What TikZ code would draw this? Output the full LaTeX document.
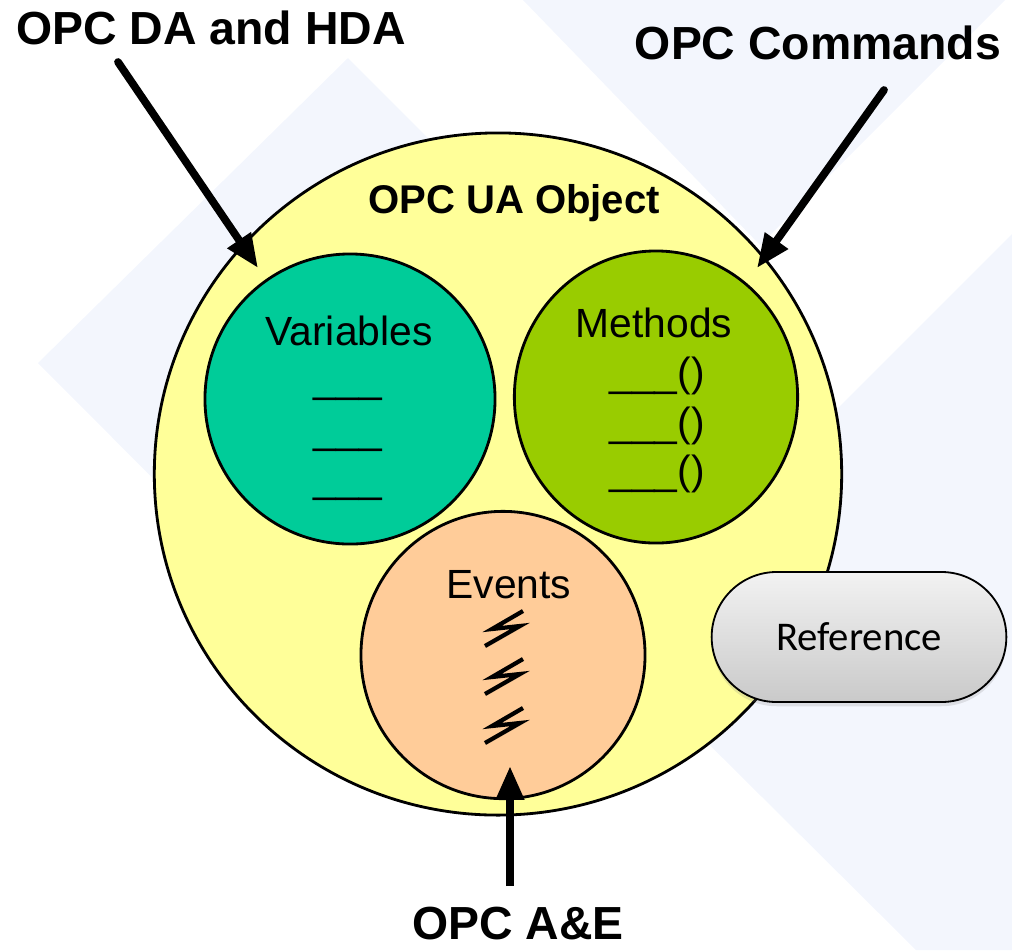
\documentclass[tikz,border=0pt]{standalone}
\usepackage{fontspec}
\setmainfont{Liberation Sans}
\newfontfamily\calibri{Carlito}
\usepackage{tikz}
\usetikzlibrary{shapes.geometric}
\usetikzlibrary{shapes.misc}
\usetikzlibrary{arrows.meta}
\usetikzlibrary{shadows}
\definecolor{objyellow}{HTML}{FFFF99}
\definecolor{varteal}{HTML}{00CC99}
\definecolor{methgreen}{HTML}{99CC00}
\definecolor{evtpeach}{HTML}{FFCC99}
\definecolor{bgblue}{RGB}{243,246,253}
\tikzset{
    blob/.style={ellipse,draw,line width=2pt,inner sep=0pt},
    pill/.style={rounded rectangle,draw,line width=1.3pt,top color=gray!10,bottom color=gray!42,
        drop shadow={shadow xshift=0pt,shadow yshift=-3pt,opacity=.2}},
    bigarrow/.style={line width=5.5pt,line cap=round,-{Triangle[length=24pt,width=19pt]}},
    title/.style={anchor=base,font=\bfseries\fontsize{33}{36}\selectfont},
    inlabel/.style={anchor=base,font=\fontsize{29}{35}\selectfont}
}

\begin{document}
\begin{tikzpicture}[x=0.025cm,y=-0.025cm]
\useasboundingbox (0,0) rectangle (1012,950);
% faint backdrop
\fill[bgblue] (348,58) -- (38,363) -- (348,674) -- (656,366) -- cycle;
\fill[bgblue] (523,0) -- (1005,0) -- (760,245) -- cycle;
\fill[bgblue] (605,641) -- (1012,234) -- (1012,950) -- (916,950) -- cycle;
% object and its parts
\node[blob,fill=objyellow,minimum width=17.18cm,minimum height=17.05cm] (obj) at (498,474) {};
\node[blob,fill=varteal,minimum width=7.25cm,minimum height=7.25cm] (var) at (350,399) {};
\node[blob,fill=methgreen,minimum width=7.08cm,minimum height=7.3cm] (meth) at (656,397) {};
\node[blob,fill=evtpeach,minimum width=7.1cm,minimum height=7.18cm] (evt) at (503,655) {};
\node[pill,minimum width=7.6cm,minimum height=3.25cm] (ref) at (859,637) {\calibri\fontsize{29}{30}\selectfont Reference};
\node[title,font=\bfseries\fontsize{28.5}{30}\selectfont] (objlabel) at (514,213) {OPC UA Object};
\node[inlabel] (varlabel) at (349,345) {Variables};
\node[inlabel] (methlabel) at (654,337) {Methods};
\node[inlabel] (evtlabel) at (509,598) {Events};
\foreach \y in {392,443,492}{
    \node[inlabel] at (348,\y) {\_\_\_};
}
\foreach \y in {386,436,484}{
    \node[inlabel] at (657,\y) {\_\_\_()};
}
\foreach \dy in {0,48,97}{
    \draw[line width=3pt] (523,611+\dy) -- (492,629+\dy) -- (520,626+\dy) -- (485,646+\dy);
}
% where the classic specs come in
\node[title] (dalabel) at (211,44) {OPC DA and HDA};
\node[title] (cmdlabel) at (818,59) {OPC Commands};
\node[title] (aelabel) at (518,939) {OPC A\&E};
\coordinate (datail) at (118,62);
\coordinate (datip) at (258,268);
\coordinate (cmdtail) at (884,90);
\coordinate (cmdtip) at (757,268);
\coordinate (aetail) at (510,886);
\coordinate (aetip) at (510,766);
\draw[bigarrow] (datail) -- (datip);
\draw[bigarrow] (cmdtail) -- (cmdtip);
\draw[bigarrow,line cap=butt] (aetail) -- (aetip);
\end{tikzpicture}
\end{document}
